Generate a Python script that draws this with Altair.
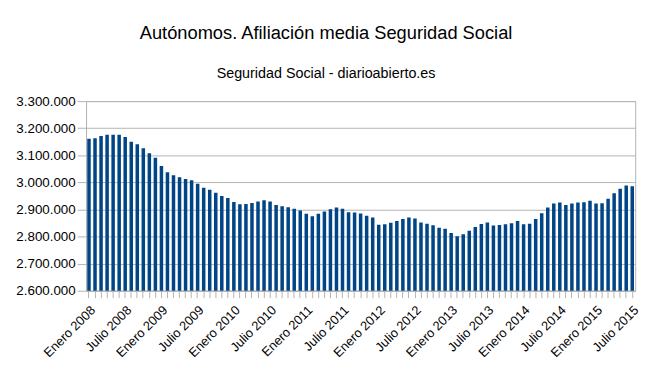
import altair as alt
import pandas as pd

meses = ["Enero", "Febrero", "Marzo", "Abril", "Mayo", "Junio",
         "Julio", "Agosto", "Septiembre", "Octubre", "Noviembre", "Diciembre"]
anios = list(range(2008, 2016))

afiliados = [
    3161300, 3162500, 3171000, 3176000, 3176000, 3176000, 3167400, 3150400, 3140600, 3126000, 3107800, 3090700,
    3060300, 3037200, 3026300, 3019000, 3012900, 3008000, 2994700, 2980000, 2972700, 2961800, 2949600, 2942300,
    2927700, 2919200, 2920400, 2924100, 2929000, 2933800, 2929000, 2916800, 2911900, 2908000, 2902200, 2896100,
    2883900, 2875400, 2883900, 2892400, 2901000, 2907100, 2902200, 2890000, 2888800, 2885200, 2876600, 2870600,
    2843800, 2845000, 2851100, 2857200, 2864500, 2870600, 2866900, 2852300, 2847400, 2841400, 2832800, 2829100,
    2813400, 2801200, 2808500, 2821900, 2835300, 2846200, 2852300, 2840400, 2842600, 2845000, 2848700, 2857200,
    2845000, 2847400, 2864500, 2886400, 2907100, 2921700, 2925400, 2916800, 2921700, 2925400, 2926500, 2932600,
    2921700, 2922900, 2939900, 2959400, 2976400, 2988600, 2986100,
]

etiquetas = [f"{m} {a}" for a in anios for m in meses][:len(afiliados)]

df = pd.DataFrame({"mes": etiquetas, "afiliados": afiliados})

chart = alt.Chart(df).mark_bar(color="#004586", clip=True).encode(
    x=alt.X("mes:N", sort=None, title=None,
            scale=alt.Scale(paddingInner=0.42, paddingOuter=0.2),
            axis=alt.Axis(
                labelAngle=-45, labelAlign="right", labelBaseline="top",
                labelExpr="(indexof(datum.value, 'Enero') == 0 || indexof(datum.value, 'Julio') == 0) ? datum.value : ''",
                labelFontSize=13, labelColor="#000000", labelFont="Liberation Sans",
                labelOverlap=False, labelPadding=6,
                tickColor="#b3b3b3", tickSize=7, domainColor="#b3b3b3",
                labelBound=False, labelFlush=False,
            )),
    y=alt.Y("afiliados:Q", title=None,
            scale=alt.Scale(domain=[2600000, 3300000], zero=False, nice=False),
            axis=alt.Axis(
                values=[2600000, 2700000, 2800000, 2900000, 3000000, 3100000, 3200000, 3300000],
                labelExpr="replace(replace(format(datum.value, ','), ',', '.'), ',', '.')",
                labelFontSize=13.5, labelColor="#000000", labelFont="Liberation Sans",
                labelPadding=2, tickSize=9, tickColor="#b3b3b3", domainColor="#b3b3b3",
                gridColor="#b3b3b3", gridWidth=1,
            )),
).properties(
    width=556, height=192,
    title=alt.Title(
        "Autónomos. Afiliación media Seguridad Social",
        subtitle="Seguridad Social - diarioabierto.es",
        font="Liberation Sans", fontSize=18.5, fontWeight="normal", color="#000000",
        subtitleFont="Liberation Sans", subtitleFontSize=14.5, subtitleColor="#000000",
        subtitlePadding=25, offset=14, anchor="middle", dx=-35,
    ),
    autosize=alt.AutoSizeParams(type="none"),
    padding={"left": 79, "top": 92, "right": 17, "bottom": 79},
).configure_view(stroke="#b3b3b3", strokeWidth=1)

chart.save("out.html", embed_options={"renderer": "svg", "actions": False})
